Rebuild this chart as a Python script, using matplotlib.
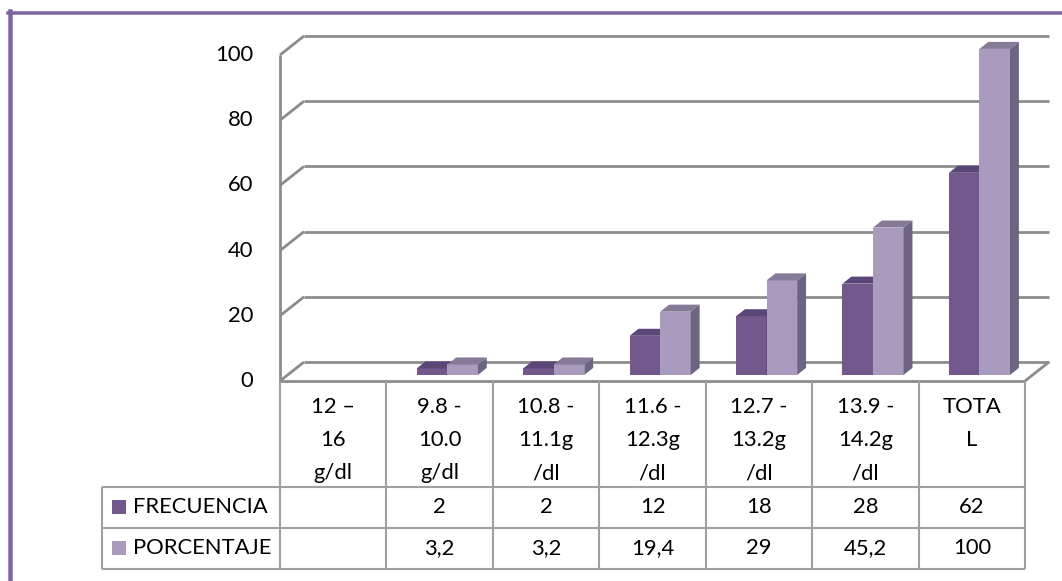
import matplotlib
matplotlib.use("Agg")
import matplotlib.pyplot as plt
from matplotlib.patches import Polygon, Rectangle
from matplotlib.lines import Line2D
from matplotlib.transforms import blended_transform_factory, IdentityTransform

categories = ["12 –\n16\ng/dl", "9.8 -\n10.0\ng/dl", "10.8 -\n11.1g\n/dl", "11.6 -\n12.3g\n/dl",
              "12.7 -\n13.2g\n/dl", "13.9 -\n14.2g\n/dl", "TOTA\nL"]
frecuencia = [None, 2, 2, 12, 18, 28, 62]
porcentaje = [None, 3.2, 3.2, 19.4, 29, 45.2, 100]
series_names = ["FRECUENCIA", "PORCENTAJE"]
y_ticks = [0, 20, 40, 60, 80, 100]

W, H = 1062, 581
FONT = ["Lato", "DejaVu Sans"]
FS = 15.8

# colours: front, top, side
DARK = ("#73588e", "#5b4678", "#4e3d66")
LIGHT = ("#a89bbe", "#857a98", "#6c6480")
GRID = "#8c8c8c"
TABLE = "#a0a0a0"
BORDER = "#8064a2"

# depth of the 3d box in data units
DX, DY = 0.2256, 5.83
F0, F1 = 0.32, 0.69      # bar depth range (fraction of box depth)
BW = 0.287               # single bar width

fig = plt.figure(figsize=(W / 100, H / 100), dpi=100)
ax = fig.add_axes([280 / W, (H - 381) / H, 745 / W, 326 / H])
ax.set_xlim(0, 7)
ax.set_ylim(0, 100)
ax.axis("off")

def line(xs, ys, color=GRID, lw=2.0, z=1, **kw):
    ax.add_line(Line2D(xs, ys, color=color, lw=lw, zorder=z, clip_on=False,
                       solid_capstyle="butt", **kw))

# back wall gridlines + left wall
for v in y_ticks:
    line([DX, 7 + DX], [v + DY, v + DY])
    line([0, DX], [v, v + DY])
line([0, 0], [0, 100])
# floor
line([0, 7], [0, 0])
line([7, 7 + DX], [0, DY])

def bar(x0, h, cols):
    front, top, side = cols
    ox0, oy0 = F0 * DX, F0 * DY
    ox1, oy1 = F1 * DX, F1 * DY
    x1 = x0 + BW
    ax.add_patch(Polygon([(x0 + ox0, oy0), (x1 + ox0, oy0), (x1 + ox0, h + oy0), (x0 + ox0, h + oy0)],
                         closed=True, fc=front, ec="none", zorder=3, clip_on=False))
    ax.add_patch(Polygon([(x0 + ox0, h + oy0), (x1 + ox0, h + oy0), (x1 + ox1, h + oy1), (x0 + ox1, h + oy1)],
                         closed=True, fc=top, ec="none", zorder=3, clip_on=False))
    ax.add_patch(Polygon([(x1 + ox0, oy0), (x1 + ox1, oy1), (x1 + ox1, h + oy1), (x1 + ox0, h + oy0)],
                         closed=True, fc=side, ec="none", zorder=3, clip_on=False))

for i, (f, p) in enumerate(zip(frecuencia, porcentaje)):
    if f is None:
        continue
    bar(i + 0.5 - BW, f, DARK)
    bar(i + 0.5, p, LIGHT)

# y tick labels on the front plane
ytr = ax.get_yaxis_transform()
for v in y_ticks:
    ax.text(-27 / 745, v, str(v), transform=ytr, ha="right", va="center",
            fontsize=FS, family=FONT, color="black")

# data table below the plot (y in image pixels from top)
px = blended_transform_factory(ax.transData, IdentityTransform())
fig_px = IdentityTransform()

def iy(y):
    return H - y

for i, lab in enumerate(categories):
    for k, part in enumerate(lab.split("\n")):
        ax.text(i + 0.5, iy(407 + 33 * k), part, transform=px, ha="center", va="center",
                fontsize=FS, family=FONT, color="black")

for i in range(8):
    line([i, i], [iy(381), iy(569)], color=TABLE, lw=1.5, transform=px)
x_left = ax.transData.inverted().transform((102, 0))[0]
for yy in (487, 528, 569):
    line([x_left, 7], [iy(yy), iy(yy)], color=TABLE, lw=1.5, transform=px)
line([x_left, x_left], [iy(487), iy(569)], color=TABLE, lw=1.5, transform=px)

for r, (name, vals, cols) in enumerate(zip(series_names, [frecuencia, porcentaje], [DARK, LIGHT])):
    yc = 507 + 41 * r
    fig.add_artist(Rectangle((112, iy(yc + 7)), 14, 14, transform=fig_px, fc=cols[0], ec="none"))
    fig.text(133, iy(yc), name, transform=fig_px, ha="left", va="center",
             fontsize=FS, family=FONT, color="black")
    for i, v in enumerate(vals):
        if v is None:
            continue
        ax.text(i + 0.5, iy(yc), f"{v:g}".replace(".", ","), transform=px, ha="center",
                va="center", fontsize=FS, family=FONT, color="black")

# purple frame (left + top)
fig.add_artist(Line2D([10, 10], [0, iy(11)], transform=fig_px, color=BORDER, lw=4.5 * 0.72))
fig.add_artist(Line2D([8, W], [iy(13), iy(13)], transform=fig_px, color=BORDER, lw=3.5 * 0.72))

fig.savefig("out.png", dpi=100)
